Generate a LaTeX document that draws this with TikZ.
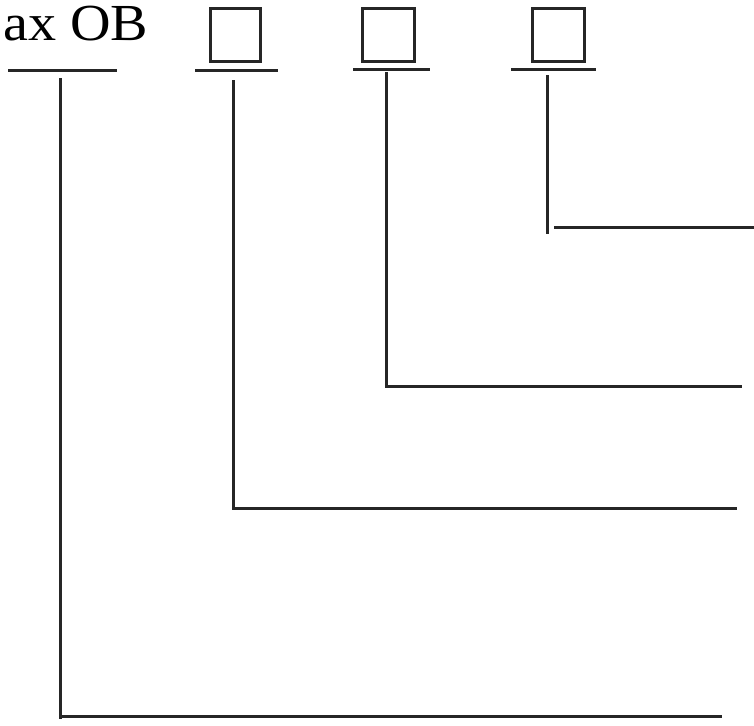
\documentclass[tikz,border=0pt]{standalone}
\usepackage{fontspec}
\setmainfont{Liberation Serif}
\begin{document}
\begin{tikzpicture}[x=1pt,y=-1pt,
  ln/.style={line width=3pt,draw=black!85},
  bx/.style={line width=3pt,draw=black!85}]
\useasboundingbox (0,0) rectangle (754,725);
% title text
\node[anchor=base west,inner sep=0pt,font=\fontsize{52}{52}\selectfont,xscale=1.08] (title) at (3,41) {ax OB};
% boxes
\draw[bx] (210,9) rectangle (260,61);
\draw[bx] (362,9) rectangle (414,61);
\draw[bx] (532,9) rectangle (584,61);
% underlines
\coordinate (u0a) at (8,70);   \coordinate (u0b) at (117,70);
\coordinate (u1a) at (195,70); \coordinate (u1b) at (278,70);
\coordinate (u2a) at (353,69); \coordinate (u2b) at (430,69);
\coordinate (u3a) at (511,69); \coordinate (u3b) at (596,69);
\draw[ln] (u0a) -- (u0b);
\draw[ln] (u1a) -- (u1b);
\draw[ln] (u2a) -- (u2b);
\draw[ln] (u3a) -- (u3b);
% connectors
\coordinate (v0t) at (60,78);  \coordinate (v0b) at (60,719); \coordinate (h0a) at (60,716); \coordinate (h0b) at (722,716);
\coordinate (v1t) at (233,80); \coordinate (v1b) at (233,510); \coordinate (h1a) at (233,508); \coordinate (h1b) at (737,508);
\coordinate (v2t) at (386,72); \coordinate (v2b) at (386,388); \coordinate (h2a) at (386,386); \coordinate (h2b) at (742,386);
\coordinate (v3t) at (547,75); \coordinate (v3b) at (547,234); \coordinate (h3a) at (554,227); \coordinate (h3b) at (754,227);
\draw[ln] (v0t) -- (v0b); \draw[ln] (h0a) -- (h0b);
\draw[ln] (v1t) -- (v1b); \draw[ln] (h1a) -- (h1b);
\draw[ln] (v2t) -- (v2b); \draw[ln] (h2a) -- (h2b);
\draw[ln] (v3t) -- (v3b); \draw[ln] (h3a) -- (h3b);
\end{tikzpicture}
\end{document}
